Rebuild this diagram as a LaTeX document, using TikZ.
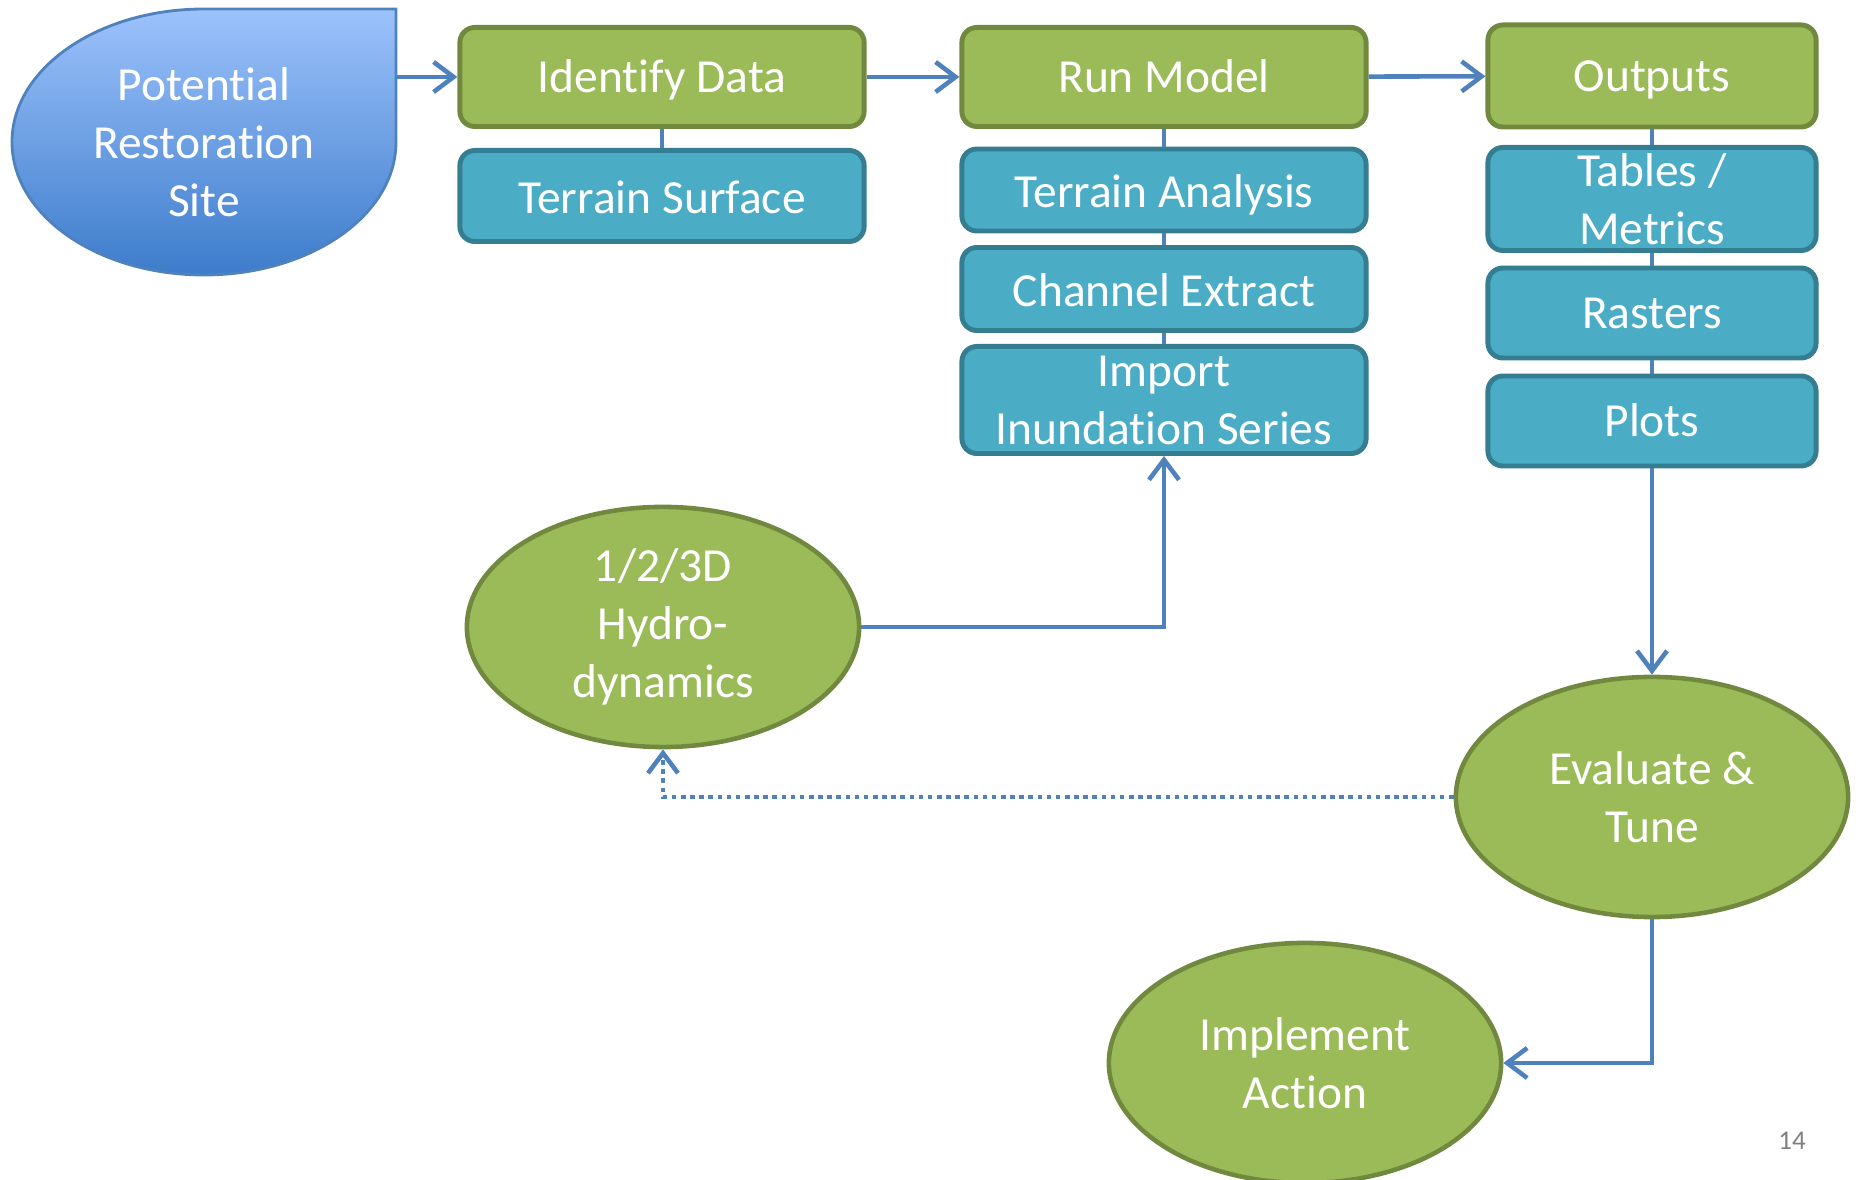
\documentclass[tikz,border=0pt]{standalone}
\usepackage{tikz}
\usepackage{xcolor}
\usepackage{fontspec}
\setmainfont[Ligatures=NoCommon]{Carlito}
\usetikzlibrary{arrows.meta, shapes.geometric}

\begin{document}
\begin{tikzpicture}[x=0.01cm, y=-0.01cm]

% =======================================================
% Color definitions
% =======================================================
\definecolor{grnfill}{HTML}{9BBB59}    % green boxes / ellipses
\definecolor{grnline}{HTML}{71893F}
\definecolor{cyanfill}{HTML}{4BACC6}   % blue sub-boxes
\definecolor{cyanline}{HTML}{357D91}
\definecolor{flowblue}{HTML}{4F81BD}   % connectors
\definecolor{droptop}{HTML}{9CC2FB}    % site shape gradient
\definecolor{dropbot}{HTML}{3D7CCB}
\definecolor{pgray}{HTML}{7F7F7F}

% =======================================================
% Layout parameters (pixel grid, y downwards)
% =======================================================
\def\colA{662}    % Identify Data column
\def\colB{1164}   % Run Model column
\def\colC{1652}   % Outputs column
\def\heady{77}    % row of the three headers

% =======================================================
% Styles
% =======================================================
\tikzset{
  txt/.style     = {text=white, align=center, inner sep=0pt,
                    font=\fontsize{13.5pt}{16.5pt}\selectfont},
  oneline/.style = {text height=9.5pt, text depth=0.8pt},
  subline/.style = {text height=11pt, text depth=0.8pt},
  headbox/.style = {txt, oneline, rectangle, rounded corners=0.15cm, fill=grnfill,
                    draw=grnline, line width=1.4pt,
                    minimum width=4.04cm, minimum height=0.99cm},
  subbox/.style  = {txt, rectangle, rounded corners=0.15cm, fill=cyanfill,
                    draw=cyanline, line width=1.4pt, minimum width=4.04cm},
  blob/.style    = {txt, ellipse, fill=grnfill, draw=grnline, line width=1.3pt,
                    minimum width=3.92cm, minimum height=2.40cm},
  link/.style    = {flowblue, line width=1.3pt},
  flow/.style    = {link, -{Straight Barb[length=2mm, width=3mm]}},
}

\useasboundingbox (0,0) rectangle (1860,1180);

% =======================================================
% Potential restoration site (drop shape)
% =======================================================
\shade[top color=droptop, bottom color=dropbot, draw=flowblue, line width=0.8pt]
    (204,9) -- (396,9) -- (396,142)
    arc[start angle=0, end angle=270, x radius=192, y radius=133] -- cycle;

\node[txt, minimum width=3.84cm, minimum height=2.66cm] (site)
    at (204,142) {Potential\\Restoration\\Site};

% =======================================================
% Columns of boxes
% =======================================================

% Identify Data
\node[headbox] (idd) at (\colA,\heady) {Identify Data};
\node[subbox, subline, minimum height=0.91cm] (tsurf) at (\colA,196) {Terrain Surface};

% Run Model
\node[headbox] (run) at (\colB,\heady) {Run Model};
\node[subbox, subline, minimum height=0.82cm] (tana) at (\colB,190) {Terrain Analysis};
\node[subbox, subline, minimum height=0.83cm] (chan) at (\colB,289) {Channel Extract};
\node[subbox, minimum height=1.07cm] (inun) at (\colB,400) {Import\\Inundation Series};

% Outputs
\node[headbox, minimum width=3.28cm, minimum height=1.02cm] (outs)
    at (\colC,76) {Outputs};
\node[subbox, minimum width=3.28cm, minimum height=1.03cm] (tabs)
    at (\colC,199) {Tables /\\Metrics};
\node[subbox, oneline, minimum width=3.28cm, minimum height=0.90cm] (rast)
    at (\colC,313) {Rasters};
\node[subbox, oneline, minimum width=3.28cm, minimum height=0.90cm] (plots)
    at (\colC,421) {Plots};

% =======================================================
% Ellipses
% =======================================================
\node[blob] (hydro)  at (663,627)     {1/2/3D\\Hydro-\\dynamics};
\node[blob] (evtune) at (\colC,797)   {Evaluate \&\\Tune};
\node[blob] (impl)   at (1305,1063)   {Implement\\Action};

% page number
\node[text=pgray, font=\fontsize{7.7pt}{9pt}\selectfont] (pgnum)
    at (1792,1141) {14};

% =======================================================
% Connectors
% =======================================================
\draw[flow] (site.east |- idd.west) -- (idd.west);
\draw[flow] (idd) -- (run);
\draw[flow] (run) -- (outs);

\draw[link] (idd) -- (tsurf);
\draw[link] (run) -- (tana);
\draw[link] (tana) -- (chan);
\draw[link] (chan) -- (inun);
\draw[link] (outs) -- (tabs);
\draw[link] (tabs) -- (rast);
\draw[link] (rast) -- (plots);

\draw[flow] (hydro.east) -| (inun.south);
\draw[flow] (plots) -- (evtune);
\draw[flow] (evtune.south) |- (impl.east);
\draw[flow, dash pattern=on 1.3pt off 1.3pt] (evtune.west) -| (hydro.south);

\end{tikzpicture}
\end{document}
